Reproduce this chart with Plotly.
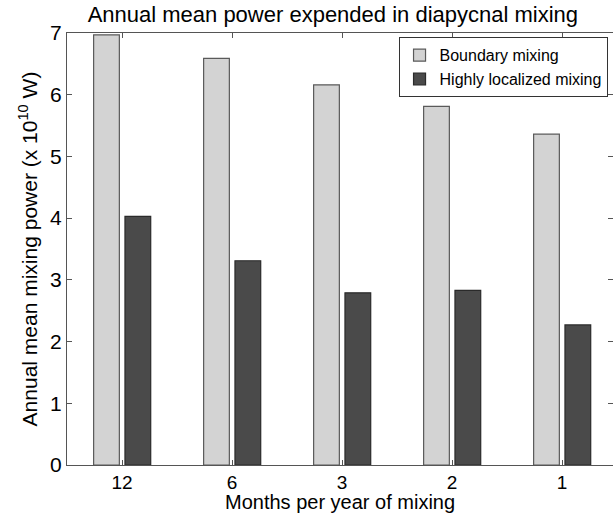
import plotly.graph_objects as go

categories = ["12", "6", "3", "2", "1"]
boundary = [6.97, 6.59, 6.16, 5.81, 5.36]
localized = [4.03, 3.31, 2.79, 2.83, 2.27]
y_ticks = [0, 1, 2, 3, 4, 5, 6, 7]

x = list(range(1, len(categories) + 1))
font = "Liberation Sans, Arial, sans-serif"

fig = go.Figure()
fig.add_trace(go.Bar(
    x=x, y=boundary, name="Boundary mixing",
    width=0.234, offset=-0.258,
    marker=dict(color="#d3d3d3", line=dict(color="#5a5a5a", width=1.2)),
))
fig.add_trace(go.Bar(
    x=x, y=localized, name="Highly localized mixing",
    width=0.234, offset=0.027,
    marker=dict(color="#4a4a4a", line=dict(color="#2a2a2a", width=1.2)),
))

fig.update_layout(
    width=613, height=514,
    margin=dict(l=67, r=0, t=33, b=49),
    barmode="overlay",
    plot_bgcolor="white", paper_bgcolor="white",
    font=dict(family=font, size=21, color="black"),
    title=dict(text="Annual mean power expended in diapycnal mixing",
               x=0.543, xanchor="center", y=0.972, yanchor="middle",
               font=dict(size=22)),
    legend=dict(x=0.99, y=0.99, xanchor="right", yanchor="top",
                bgcolor="white", bordercolor="#333", borderwidth=1,
                font=dict(size=16), tracegroupgap=0, traceorder="normal",
                itemwidth=30),
    xaxis=dict(
        range=[0.5, 0.5 + 546 / 110], tickvals=x, ticktext=categories,
        showline=True, linecolor="#555", linewidth=1, mirror="ticks",
        ticks="inside", ticklen=5, tickcolor="#555", showgrid=False,
        zeroline=False,
        tickfont=dict(size=19),
    ),
    yaxis=dict(
        range=[0, 7], tickvals=y_ticks,
        showline=True, linecolor="#555", linewidth=1, mirror="ticks",
        ticks="inside", ticklen=5, tickcolor="#555", showgrid=False,
        zeroline=False,
        title=dict(text="Annual mean mixing power (x 10<sup>10</sup> W)", standoff=6,
                   font=dict(size=21)),
        tickfont=dict(size=21),
    ),
    annotations=[dict(
        text="Months per year of mixing", xref="paper", yref="paper",
        x=0.5, y=-49 / 432, xanchor="center", yanchor="bottom",
        showarrow=False, font=dict(size=20), borderpad=0,
    )],
)

fig.write_html("out.html")
